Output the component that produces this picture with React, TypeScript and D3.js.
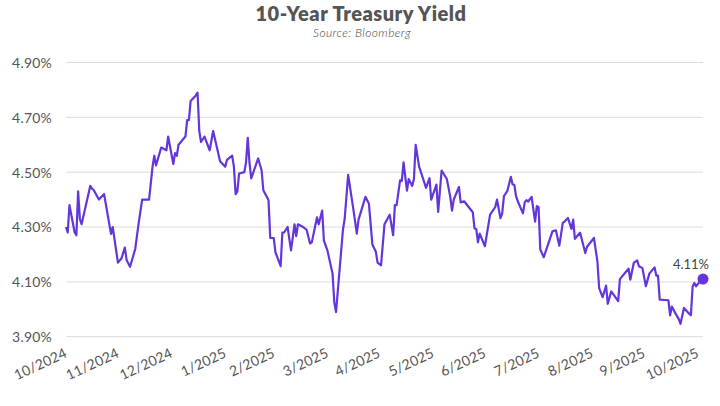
import React from "react";
import * as d3 from "d3";

const dates: string[] = [
  "2024-10-31","2024-11-01","2024-11-02","2024-11-05","2024-11-06","2024-11-07","2024-11-08","2024-11-09",
  "2024-11-14","2024-11-15","2024-11-16","2024-11-19","2024-11-22","2024-11-26","2024-11-27","2024-11-30",
  "2024-12-02","2024-12-04","2024-12-05","2024-12-07","2024-12-10","2024-12-12","2024-12-14","2024-12-18",
  "2024-12-20","2024-12-21","2024-12-22","2024-12-25","2024-12-28","2024-12-29","2025-01-01","2025-01-02",
  "2025-01-03","2025-01-04","2025-01-08","2025-01-09","2025-01-10","2025-01-11","2025-01-14","2025-01-15",
  "2025-01-16","2025-01-17","2025-01-19","2025-01-22","2025-01-24","2025-01-28","2025-01-31","2025-02-01",
  "2025-02-04","2025-02-05","2025-02-06","2025-02-07","2025-02-08","2025-02-11","2025-02-12","2025-02-13",
  "2025-02-14","2025-02-15","2025-02-19","2025-02-21","2025-02-22","2025-02-24","2025-02-25","2025-02-26",
  "2025-02-28","2025-03-01","2025-03-04","2025-03-05","2025-03-06","2025-03-08","2025-03-10","2025-03-12",
  "2025-03-13","2025-03-14","2025-03-17","2025-03-19","2025-03-21","2025-03-22","2025-03-25","2025-03-26",
  "2025-03-28","2025-03-29","2025-03-31","2025-04-03","2025-04-04","2025-04-05","2025-04-09","2025-04-10",
  "2025-04-12","2025-04-15","2025-04-17","2025-04-18","2025-04-22","2025-04-24","2025-04-26","2025-04-28",
  "2025-04-29","2025-05-01","2025-05-03","2025-05-06","2025-05-08","2025-05-09","2025-05-10","2025-05-12",
  "2025-05-13","2025-05-14","2025-05-16","2025-05-17","2025-05-19","2025-05-20","2025-05-21","2025-05-23",
  "2025-05-27","2025-05-29","2025-05-30","2025-06-02","2025-06-03","2025-06-05","2025-06-08","2025-06-10",
  "2025-06-11","2025-06-12","2025-06-15","2025-06-16","2025-06-18","2025-06-23","2025-06-24","2025-06-25",
  "2025-06-26","2025-06-27","2025-06-30","2025-07-03","2025-07-06","2025-07-07","2025-07-09","2025-07-10",
  "2025-07-11","2025-07-13","2025-07-15","2025-07-16","2025-07-17","2025-07-18","2025-07-19","2025-07-22",
  "2025-07-23","2025-07-24","2025-07-25","2025-07-27","2025-07-29","2025-07-30","2025-07-31","2025-08-01",
  "2025-08-03","2025-08-08","2025-08-10","2025-08-12","2025-08-14","2025-08-15","2025-08-17","2025-08-19",
  "2025-08-20","2025-08-21","2025-08-24","2025-08-27","2025-08-28","2025-09-01","2025-09-03","2025-09-04",
  "2025-09-06","2025-09-08","2025-09-09","2025-09-11","2025-09-15","2025-09-16","2025-09-19","2025-09-21",
  "2025-09-22","2025-09-24","2025-09-26","2025-09-27","2025-09-29","2025-10-01","2025-10-03","2025-10-06",
  "2025-10-07","2025-10-08","2025-10-09","2025-10-14","2025-10-15","2025-10-16","2025-10-18","2025-10-20",
  "2025-10-21","2025-10-23","2025-10-26","2025-10-27","2025-10-28","2025-10-29","2025-10-30","2025-11-01",
  "2025-11-03",
];

const yields: number[] = [
  4.30,4.28,4.38,4.28,4.27,4.43,4.33,4.31,
  4.45,4.44,4.435,4.40,4.42,4.275,4.30,4.17,
  4.185,4.225,4.18,4.155,4.22,4.315,4.40,4.40,
  4.52,4.56,4.525,4.59,4.58,4.63,4.53,4.57,
  4.56,4.60,4.63,4.69,4.69,4.76,4.78,4.79,
  4.65,4.61,4.63,4.58,4.65,4.54,4.52,4.545,
  4.56,4.52,4.42,4.43,4.495,4.50,4.535,4.625,
  4.535,4.477,4.55,4.507,4.434,4.41,4.398,4.26,
  4.26,4.208,4.157,4.28,4.28,4.30,4.215,4.31,
  4.267,4.31,4.30,4.29,4.24,4.244,4.335,4.31,
  4.36,4.25,4.215,4.13,4.025,3.99,4.29,4.33,
  4.49,4.365,4.276,4.327,4.41,4.385,4.236,4.21,
  4.17,4.16,4.31,4.345,4.27,4.38,4.38,4.47,
  4.468,4.536,4.433,4.475,4.45,4.475,4.60,4.52,
  4.443,4.478,4.40,4.455,4.355,4.506,4.475,4.41,
  4.36,4.40,4.446,4.39,4.394,4.354,4.295,4.293,
  4.244,4.276,4.23,4.345,4.373,4.40,4.332,4.35,
  4.413,4.432,4.483,4.455,4.454,4.413,4.394,4.35,
  4.39,4.398,4.393,4.41,4.32,4.376,4.373,4.218,
  4.19,4.284,4.288,4.232,4.315,4.32,4.333,4.293,
  4.327,4.257,4.279,4.205,4.228,4.26,4.175,4.077,
  4.044,4.086,4.02,4.065,4.03,4.11,4.133,4.148,
  4.108,4.169,4.178,4.157,4.15,4.084,4.13,4.153,
  4.123,4.123,4.035,4.033,3.978,4.01,3.986,3.964,
  3.947,4.005,3.984,3.978,4.082,4.096,4.084,4.10,
  4.11,
];

const yTicks: number[] = [3.9, 4.1, 4.3, 4.5, 4.7, 4.9];

const tickDates: string[] = [
  "2024-10-31","2024-11-30","2024-12-31","2025-01-31","2025-02-28","2025-03-31","2025-04-30",
  "2025-05-31","2025-06-30","2025-07-31","2025-08-31","2025-09-30","2025-10-31",
];
const tickLabels: string[] = [
  "10/2024","11/2024","12/2024","1/2025","2/2025","3/2025","4/2025",
  "5/2025","6/2025","7/2025","8/2025","9/2025","10/2025",
];

const title = "10-Year Treasury Yield";
const subtitle = "Source: Bloomberg";

const W = 720;
const H = 406;
const LINE = "#6236DB";
const TEXT = "#555555";
const FONT = "Lato, 'Open Sans', sans-serif";

export default function App() {
  const parse = d3.timeParse("%Y-%m-%d");
  const data = dates.map((d, i) => ({ date: parse(d) as Date, v: yields[i] }));

  const x = d3
    .scaleTime()
    .domain(d3.extent(data, (d) => d.date) as [Date, Date])
    .range([66, 703]);
  const y = d3.scaleLinear().domain([3.9, 4.9]).range([336.7, 62.5]);

  const line = d3
    .line<{ date: Date; v: number }>()
    .x((d) => x(d.date))
    .y((d) => y(d.v));

  const last = data[data.length - 1];

  return (
    <svg
      width={W}
      height={H}
      style={{ position: "absolute", left: 0, top: 0, background: "#fff" }}
      fontFamily={FONT}
    >
      <rect x={0} y={0} width={W} height={H} fill="#fff" />
      <text x={361} y={21} textAnchor="middle" fontSize={20} fontWeight={800} letterSpacing={0.5} fill={TEXT}>
        {title}
      </text>
      <text x={362} y={36.5} textAnchor="middle" fontSize={12} fontStyle="italic" fontWeight={300} letterSpacing={0.4} fill="#444">
        {subtitle}
      </text>

      {yTicks.map((t) => (
        <g key={t}>
          <line x1={66} x2={703} y1={y(t)} y2={y(t)} stroke="#dcdcdc" strokeWidth={1} />
          <text x={52} y={y(t)} dy="0.38em" textAnchor="end" fontSize={14} letterSpacing={0.2} fill={TEXT}>
            {t.toFixed(2) + "%"}
          </text>
        </g>
      ))}

      {tickDates.map((d, i) => {
        const tx = x(parse(d) as Date);
        return (
          <text
            key={d}
            transform={`translate(${tx},352) rotate(-25)`}
            dy="0.35em"
            textAnchor="end"
            fontSize={14}
            letterSpacing={0.2}
            fill={TEXT}
          >
            {tickLabels[i]}
          </text>
        );
      })}

      <path d={line(data) || ""} fill="none" stroke={LINE} strokeWidth={2.2} strokeLinejoin="round" />
      <circle cx={x(last.date)} cy={y(last.v)} r={5.5} fill={LINE} />
      <text x={709} y={269} textAnchor="end" fontSize={13} fill="#444">
        {last.v.toFixed(2) + "%"}
      </text>
    </svg>
  );
}
